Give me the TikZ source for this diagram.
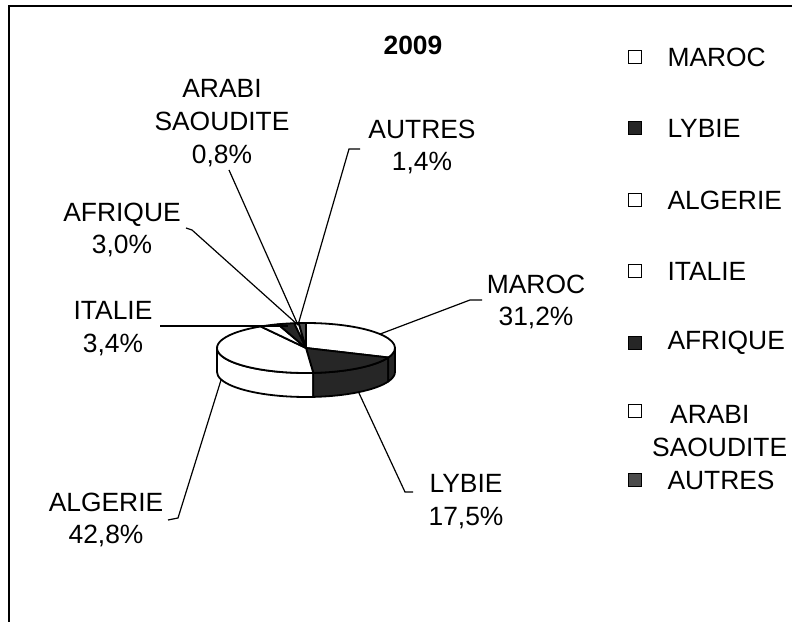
\documentclass[tikz,border=0pt]{standalone}
\usepackage{fontspec}
\setmainfont{Liberation Sans}
\usetikzlibrary{calc,positioning}

\begin{document}
\begin{tikzpicture}[x=1bp,y=1bp,
	lbl/.style={align=center,inner sep=0pt,font=\fontsize{26.5}{33}\selectfont},
	legtxt/.style={align=left,inner sep=0pt,font=\fontsize{26.5}{33}\selectfont},
	mark box/.style={draw=black,line width=1.6bp,minimum size=13bp,inner sep=0pt},
	pieline/.style={draw=black,line width=1.8bp,line join=round},
	leader/.style={draw=black,line width=1.2bp},
	pie/.style={x radius=89,y radius=25},
	dark/.style={fill=black!85}]
					
					\useasboundingbox (0,0) rectangle (792,622);
					
					% frame (only top and left edges show)
					\draw[line width=1.8bp] (9,0) -- (9,616) -- (792,616);
					
					% title
					\node[lbl,font=\fontsize{26.5}{33}\selectfont\bfseries] (title) at (413,577) {2009};
					
					% pie centre, top and bottom
					\coordinate (c) at (306,274);
					\coordinate (cb) at (306,250);
					
					% sides of the pie
					\filldraw[pieline,fill=white] ($(c)+(180:89 and 25)$) arc[pie,start angle=180,end angle=274.68] -- ++(0,-24) arc[pie,start angle=274.68,end angle=180] -- cycle;
					\filldraw[pieline,dark] ($(c)+(274.68:89 and 25)$) arc[pie,start angle=274.68,end angle=337.68] -- ++(0,-24) arc[pie,start angle=337.68,end angle=274.68] -- cycle;
					\filldraw[pieline,dark] ($(c)+(337.68:89 and 25)$) arc[pie,start angle=337.68,end angle=360] -- ++(0,-24) arc[pie,start angle=360,end angle=337.68] -- cycle;
					
					% top of the pie
					\filldraw[pieline,fill=white] (c) -- ($(c)+(-22.32:89 and 25)$) arc[pie,start angle=-22.32,end angle=90] -- cycle;
					\filldraw[pieline,dark] (c) -- ($(c)+(-85.32:89 and 25)$) arc[pie,start angle=-85.32,end angle=-22.32] -- cycle;
					\filldraw[pieline,fill=white] (c) -- ($(c)+(120.6:89 and 25)$) arc[pie,start angle=120.6,end angle=274.68] -- cycle;
					\filldraw[pieline,fill=white] (c) -- ($(c)+(108.36:89 and 25)$) arc[pie,start angle=108.36,end angle=120.6] -- cycle;
					\filldraw[pieline,dark] (c) -- ($(c)+(97.56:89 and 25)$) arc[pie,start angle=97.56,end angle=108.36] -- cycle;
					\filldraw[pieline,fill=white] (c) -- ($(c)+(94.68:89 and 25)$) arc[pie,start angle=94.68,end angle=97.56] -- cycle;
					\filldraw[pieline,fill=black!70] (c) -- ($(c)+(90:89 and 25)$) arc[pie,start angle=90,end angle=94.68] -- cycle;
					
					% points where the leaders meet the pie
					\coordinate (p-maroc) at ($(c)+(33.8:89 and 25)$);
					\coordinate (p-lybie) at ($(cb)+(-53.8:89 and 25)$);
					\coordinate (p-algerie) at ($(cb)+(197.6:89 and 25)$);
					\coordinate (p-italie) at (288,296);
					\coordinate (p-back) at (298,297);
					
					% data labels
					\node[lbl] (arabi) at (222,499) {ARABI\\SAOUDITE\\0,8\%};
					\node[lbl] (autres) at (422,475) {AUTRES\\1,4\%};
					\node[lbl] (afrique) at (122,392) {AFRIQUE\\3,0\%};
					\node[lbl] (italie) at (113,293) {ITALIE\\3,4\%};
					\node[lbl] (maroc) at (536,320) {MAROC\\31,2\%};
					\node[lbl] (lybie) at (466,120) {LYBIE\\17,5\%};
					\node[lbl] (algerie) at (106,102) {ALGERIE\\42,8\%};
					
					% leader lines
					\coordinate (e-arabi) at (229,452);
					\coordinate (e-autres) at (349,473);
					\coordinate (e-afrique) at (192,392);
					\coordinate (e-italie) at (160,296);
					\coordinate (e-maroc) at (470,322);
					\coordinate (e-lybie) at (405,130);
					\coordinate (e-algerie) at (178,104);
					\draw[leader] (e-arabi) -- (p-back);
					\draw[leader] ([xshift=11bp]e-autres) -- (e-autres) -- (p-back);
					\draw[leader] ([xshift=-6bp,yshift=2bp]e-afrique) -- (e-afrique) -- (p-back);
					\draw[leader] (e-italie) -- (p-italie);
					\draw[leader] ([xshift=12bp]e-maroc) -- (e-maroc) -- (p-maroc);
					\draw[leader] (p-lybie) -- (e-lybie) -- ([xshift=8bp]e-lybie);
					\draw[leader] (p-algerie) -- (e-algerie) -- ([xshift=-10bp,yshift=-2bp]e-algerie);
					
					% legend
					\node[mark box,fill=white] (m1) at (635,565) {};
					\node[legtxt,right=25bp of m1] (l1) {MAROC};
					\node[mark box,dark] (m2) at (635,494) {};
					\node[legtxt,right=25bp of m2] (l2) {LYBIE};
					\node[mark box,fill=white] (m3) at (635,422) {};
					\node[legtxt,right=25bp of m3] (l3) {ALGERIE};
					\node[mark box,fill=white] (m4) at (635,351) {};
					\node[legtxt,right=25bp of m4] (l4) {ITALIE};
					\node[mark box,dark] (m5) at (635,279) {};
					\node[legtxt,right=25bp of m5] (l5) {AFRIQUE};
					\node[mark box,fill=white] (m6) at (635,211) {};
					\node[legtxt,anchor=west] (l6) at (652,191) {\hspace*{18bp}ARABI\\SAOUDITE};
					\node[mark box,fill=black!70] (m7) at (635,142) {};
					\node[legtxt,right=25bp of m7] (l7) {AUTRES};
					
				\end{tikzpicture}
\end{document}
